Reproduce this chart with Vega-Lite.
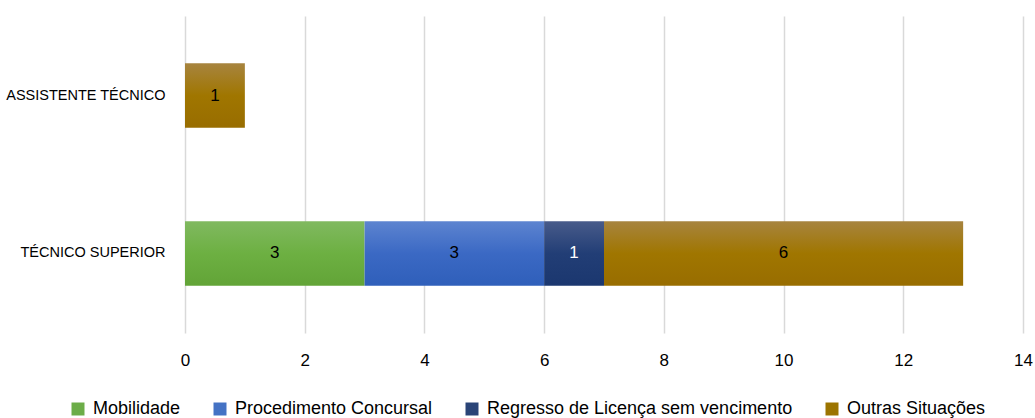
{
  "$schema": "https://vega.github.io/schema/vega-lite/v6.json",
  "width": 838,
  "height": 317,
  "autosize": "none",
  "padding": {"left": 185, "top": 16, "right": 12, "bottom": 85},
  "background": "white",
  "config": {
    "font": "Liberation Sans",
    "view": {"stroke": null}
  },
  "data": {
    "values": [
      {"cargo": "Assistente Técnico", "tipo": "Outras Situações", "n": 1},
      {"cargo": "Técnico Superior", "tipo": "Mobilidade", "n": 3},
      {"cargo": "Técnico Superior", "tipo": "Procedimento Concursal", "n": 3},
      {"cargo": "Técnico Superior", "tipo": "Regresso de Licença sem vencimento", "n": 1},
      {"cargo": "Técnico Superior", "tipo": "Outras Situações", "n": 6}
    ]
  },
  "transform": [
    {"calculate": "indexof(['Mobilidade','Procedimento Concursal','Regresso de Licença sem vencimento','Outras Situações'], datum.tipo)", "as": "ordem"}
  ],
  "encoding": {
    "y": {
      "field": "cargo",
      "type": "nominal",
      "sort": ["Assistente Técnico", "Técnico Superior"],
      "scale": {"paddingInner": 0.592, "paddingOuter": 0.3},
      "axis": {
        "title": null,
        "domain": false,
        "ticks": false,
        "labelExpr": "upper(datum.label)",
        "labelFontSize": 14.5,
        "labelColor": "#000000",
        "labelPadding": 20
      }
    },
    "x": {
      "field": "n",
      "type": "quantitative",
      "stack": "zero",
      "scale": {"domain": [0, 14]},
      "axis": {
        "title": null,
        "values": [0, 2, 4, 6, 8, 10, 12, 14],
        "domain": false,
        "ticks": false,
        "grid": true,
        "gridColor": "#d9d9d9",
        "gridWidth": 1.5,
        "labelFontSize": 17,
        "labelColor": "#000000",
        "labelPadding": 19,
        "labelFlush": false
      }
    },
    "order": {"field": "ordem", "type": "quantitative"}
  },
  "layer": [
    {
      "mark": {"type": "bar"},
      "encoding": {
        "color": {
          "condition": [
            {"test": "datum.tipo === 'Mobilidade'", "value": {"gradient": "linear", "x1": 0, "y1": 0, "x2": 0, "y2": 1, "stops": [{"offset": 0, "color": "#80b960"}, {"offset": 0.5, "color": "#6db042"}, {"offset": 1, "color": "#62a437"}]}},
            {"test": "datum.tipo === 'Procedimento Concursal'", "value": {"gradient": "linear", "x1": 0, "y1": 0, "x2": 0, "y2": 1, "stops": [{"offset": 0, "color": "#5d84d0"}, {"offset": 0.5, "color": "#3b69c4"}, {"offset": 1, "color": "#2f5fba"}]}},
            {"test": "datum.tipo === 'Regresso de Licença sem vencimento'", "value": {"gradient": "linear", "x1": 0, "y1": 0, "x2": 0, "y2": 1, "stops": [{"offset": 0, "color": "#485b8a"}, {"offset": 0.5, "color": "#223e76"}, {"offset": 1, "color": "#1b376f"}]}},
            {"test": "datum.tipo === 'Outras Situações'", "value": {"gradient": "linear", "x1": 0, "y1": 0, "x2": 0, "y2": 1, "stops": [{"offset": 0, "color": "#a7843f"}, {"offset": 0.5, "color": "#a07600"}, {"offset": 1, "color": "#986d00"}]}}
          ],
          "field": "tipo",
          "type": "nominal",
          "scale": {
            "domain": ["Mobilidade", "Procedimento Concursal", "Regresso de Licença sem vencimento", "Outras Situações"],
            "range": ["#6cad48", "#4472c4", "#2a4477", "#9c7400"]
          },
          "legend": {
            "title": null,
            "orient": "none",
            "direction": "horizontal",
            "legendX": -116,
            "legendY": 384,
            "symbolType": "square",
            "symbolSize": 169,
            "symbolStrokeWidth": 0,
            "labelFontSize": 18,
            "labelLimit": 500,
            "labelColor": "#000000",
            "labelOffset": 6,
            "columnPadding": 30
          }
        }
      }
    },
    {
      "mark": {"type": "text", "fontSize": 17},
      "encoding": {
        "x": {"field": "n", "type": "quantitative", "stack": "zero", "bandPosition": 0.5},
        "text": {"field": "n", "type": "quantitative"},
        "color": {
          "condition": {"test": "datum.tipo === 'Regresso de Licença sem vencimento'", "value": "#ffffff"},
          "value": "#000000"
        }
      }
    }
  ]
}
